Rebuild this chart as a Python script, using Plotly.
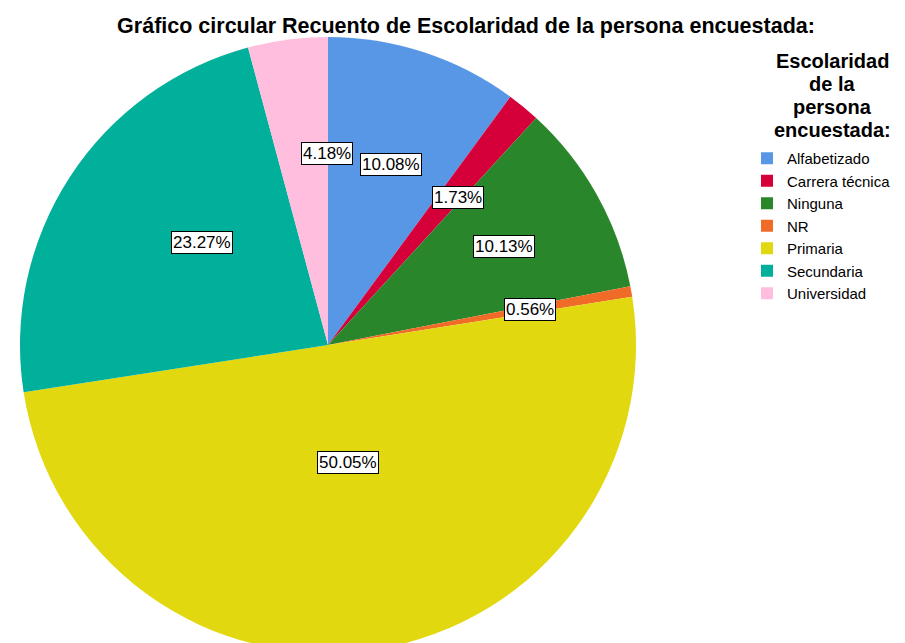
import math
import plotly.graph_objects as go

categories = ["Alfabetizado", "Carrera técnica", "Ninguna", "NR", "Primaria", "Secundaria", "Universidad"]
percentages = [10.08, 1.73, 10.13, 0.56, 50.05, 23.27, 4.18]
colors = ["#5797E6", "#D5003A", "#2A862A", "#F06A28", "#E2D810", "#00B09B", "#FFBEDE"]
legend_title_lines = ["Escolaridad", "de la", "persona", "encuestada:"]
chart_title = "Gráfico circular Recuento de Escolaridad de la persona encuestada:"

FONT = "Liberation Sans, Arial, sans-serif"
OFF = 8            # page body margin
W, H = 897, 680    # figure size
CX, CY = 328 - OFF, 345 - OFF   # pie centre in figure px (from top-left)
R = 308

def px(x):
    return x / W

def py(y):
    return 1 - y / H

dom_x = [px(CX - R), px(CX + R)]
dom_y = [py(CY + R), py(CY - R)]

fig = go.Figure()
fig.add_trace(go.Pie(
    labels=categories,
    values=percentages,
    marker=dict(colors=colors, line=dict(width=0)),
    sort=False,
    direction="clockwise",
    rotation=0,
    textinfo="none",
    domain=dict(x=dom_x, y=dom_y),
    hovertemplate="%{label}: %{value:.2f}%<extra></extra>",
))

# Percentage labels at slice centroids (computed from the data)
total = sum(percentages)
cum = 0.0
for p in percentages:
    theta = 2 * math.pi * p / total
    mid = 2 * math.pi * (cum + p / 2) / total
    half = theta / 2
    rho = R * (2 * math.sin(half) / (3 * half))
    fig.add_annotation(
        x=px(CX + rho * math.sin(mid)),
        y=py(CY - rho * math.cos(mid)),
        xref="paper", yref="paper",
        text=f"{p:.2f}%",
        showarrow=False,
        font=dict(family=FONT, size=17, color="#000000"),
        bgcolor="#FFFFFF",
        bordercolor="#000000",
        borderwidth=1,
        borderpad=1,
    )
    cum += p

# Legend title lines
title_y = [61, 84, 107, 130]
for line, yy in zip(legend_title_lines, title_y):
    fig.add_annotation(
        x=px(832 - OFF), y=py(yy - OFF),
        xref="paper", yref="paper",
        text=f"<b>{line}</b>",
        showarrow=False,
        xanchor="center", yanchor="middle",
        borderpad=0,
        font=dict(family=FONT, size=20, color="#000000"),
    )

fig.update_layout(
    width=W, height=H,
    margin=dict(l=0, r=0, t=0, b=0),
    paper_bgcolor="#FFFFFF",
    plot_bgcolor="#FFFFFF",
    title=dict(
        text=f"<b>{chart_title}</b>",
        x=px(466 - OFF), xanchor="center",
        y=py(25 - OFF), yanchor="middle",
        font=dict(family=FONT, size=21.5, color="#000000"),
    ),
    legend=dict(
        font=dict(family=FONT, size=15, color="#000000"),
        x=px(747 - OFF), xanchor="left",
        y=py(142 - OFF), yanchor="top",
        bgcolor="rgba(0,0,0,0)",
        itemwidth=30,
        tracegroupgap=0,
    ),
)

fig.write_html("out.html")
